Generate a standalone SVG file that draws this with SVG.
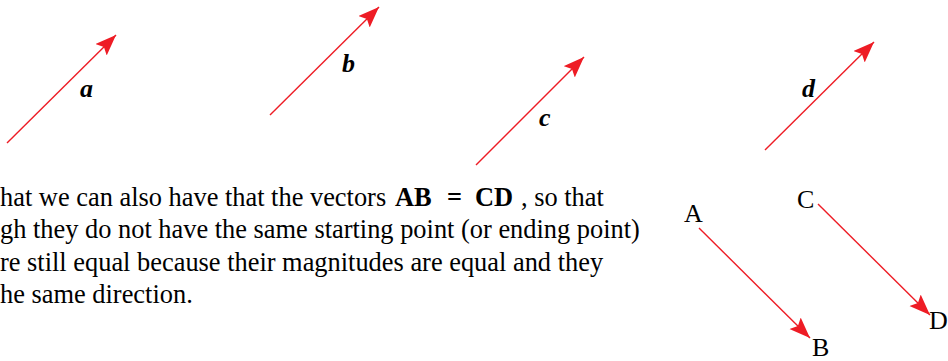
<svg xmlns="http://www.w3.org/2000/svg" width="948" height="361" viewBox="0 0 948 361">
<style>
.v{stroke:#ee1c25;stroke-width:1.4;fill:none}
.lbl{font-family:"Liberation Serif",serif;font-style:italic;font-weight:bold;font-size:26px;fill:#000}
.pt{font-family:"Liberation Serif",serif;font-size:26px;fill:#000}
.body{font-family:"Liberation Serif",serif;font-size:26.4px;fill:#000}
.bold{font-weight:bold}
</style>
<defs>
<marker id="ah" markerUnits="userSpaceOnUse" markerWidth="24" markerHeight="18" refX="21" refY="8" orient="auto">
<path d="M0,0 L21,8 L0,16 L4,8 Z" fill="#ee1c25"/>
</marker>
</defs>
<rect width="948" height="361" fill="#fff"/>
<g id="connectors">
<line class="v" x1="7" y1="143" x2="116" y2="35" marker-end="url(#ah)"/>
<line class="v" x1="270" y1="115" x2="379" y2="7" marker-end="url(#ah)"/>
<line class="v" x1="476" y1="165" x2="584" y2="57" marker-end="url(#ah)"/>
<line class="v" x1="765" y1="150" x2="874" y2="42" marker-end="url(#ah)"/>
<line class="v" x1="699" y1="228" x2="810" y2="338" marker-end="url(#ah)"/>
<line class="v" x1="818" y1="204" x2="930" y2="315" marker-end="url(#ah)"/>
</g>
<g id="label-a"><text class="lbl" x="80" y="97">a</text></g>
<g id="label-b"><text class="lbl" x="342" y="72">b</text></g>
<g id="label-c"><text class="lbl" x="539" y="126">c</text></g>
<g id="label-d"><text class="lbl" x="802" y="97">d</text></g>
<g id="point-A"><text class="pt" x="684" y="222">A</text></g>
<g id="point-B"><text class="pt" x="812" y="356">B</text></g>
<g id="point-C"><text class="pt" x="797" y="208">C</text></g>
<g id="point-D"><text class="pt" x="929" y="329">D</text></g>
<g id="paragraph">
<text class="body" x="0" y="206">hat we can also have that the vectors <tspan class="bold" x="395">AB</tspan><tspan class="bold" x="447">=</tspan><tspan class="bold" x="475">CD</tspan><tspan x="521">, so that</tspan></text>
<text class="body" x="0" y="238">gh they do not have the same starting point (or ending point)</text>
<text class="body" x="0" y="271">re still equal because their magnitudes are equal and they</text>
<text class="body" x="0" y="303">he same direction.</text>
</g>
</svg>
